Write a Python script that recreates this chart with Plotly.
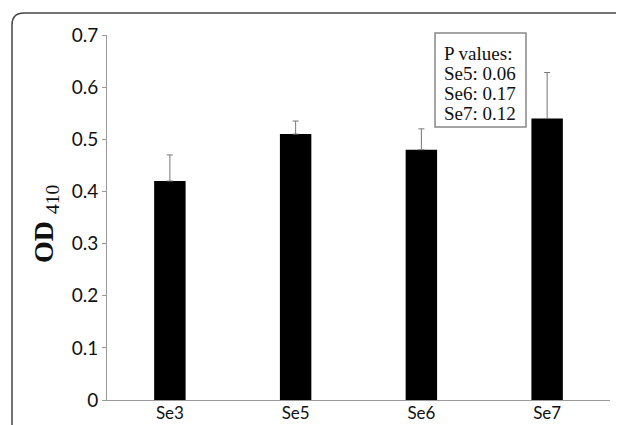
import plotly.graph_objects as go

categories = ["Se3", "Se5", "Se6", "Se7"]
od_values = [0.42, 0.51, 0.48, 0.54]
err_plus = [0.05, 0.025, 0.04, 0.088]
y_ticks = [0, 0.1, 0.2, 0.3, 0.4, 0.5, 0.6, 0.7]
y_tick_labels = ["0", "0.1", "0.2", "0.3", "0.4", "0.5", "0.6", "0.7"]
p_lines = ["P values:", "Se5: 0.06", "Se6: 0.17", "Se7: 0.12"]

# page has an 8px body margin, so the figure is drawn 8px in from the corner
OFF = 8
W, H = 624 - OFF, 425 - OFF
ml, mt = 107 - OFF, 35 - OFF
plot_right, plot_bottom = 610 - OFF, 400 - OFF
mr, mb = W - plot_right, H - plot_bottom
pw, ph = W - ml - mr, H - mt - mb

def px(x):
    return (x - OFF - ml) / pw

def py(y):
    return (H - mb - (y - OFF)) / ph

fig = go.Figure()
fig.add_trace(go.Bar(
    x=categories, y=od_values, width=0.25,
    marker=dict(color="#000000", line=dict(width=0)),
    error_y=dict(type="data", symmetric=False, array=err_plus, arrayminus=[0]*4,
                 color="#777777", thickness=1, width=3),
))

r = 12
path = (f"M {px(12)} {py(440)} L {px(12)} {py(13 + r)} "
        f"Q {px(12)} {py(13)} {px(12 + r)} {py(13)} L {px(640)} {py(13)}")
fig.add_shape(type="path", xref="paper", yref="paper", path=path,
              line=dict(color="#444444", width=1.5))

# P-value box
fig.add_shape(type="rect", xref="paper", yref="paper",
              x0=px(435), x1=px(526), y0=py(127), y1=py(33),
              line=dict(color="#888888", width=1.5), fillcolor="white")
line_centers = [53, 73, 93, 113]
for txt, yc in zip(p_lines, line_centers):
    fig.add_annotation(xref="paper", yref="paper", x=px(442), y=py(yc),
                       xanchor="left", yanchor="middle", text=txt, showarrow=False,
                       font=dict(family="Liberation Serif", size=19, color="#111111"))

fig.update_layout(
    width=W, height=H, margin=dict(l=ml, r=mr, t=mt, b=mb, autoexpand=False),
    paper_bgcolor="white", plot_bgcolor="white", showlegend=False,
    font=dict(family="Lato", color="#111111"),
    xaxis=dict(range=[-0.5, 3.5], showline=True, linecolor="#999999", linewidth=1,
               ticks="", tickfont=dict(size=17, family="Lato"), showgrid=False,
               automargin=False, ticklabelstandoff=-2),
    yaxis=dict(range=[0, 0.7], tickvals=y_ticks, ticktext=y_tick_labels,
               showline=True, linecolor="#999999", linewidth=1,
               ticks="outside", ticklen=4, tickcolor="#999999",
               tickfont=dict(size=19, family="Lato"), showgrid=False, zeroline=False,
               automargin=False),
)

fig.add_annotation(xref="paper", yref="paper", x=px(45), y=py(224), textangle=-90,
                   xanchor="center", yanchor="middle", showarrow=False,
                   text="<b>OD</b> <sub>410</sub>",
                   font=dict(family="Liberation Serif", size=28, color="#111111"))

fig.write_html("out.html")
